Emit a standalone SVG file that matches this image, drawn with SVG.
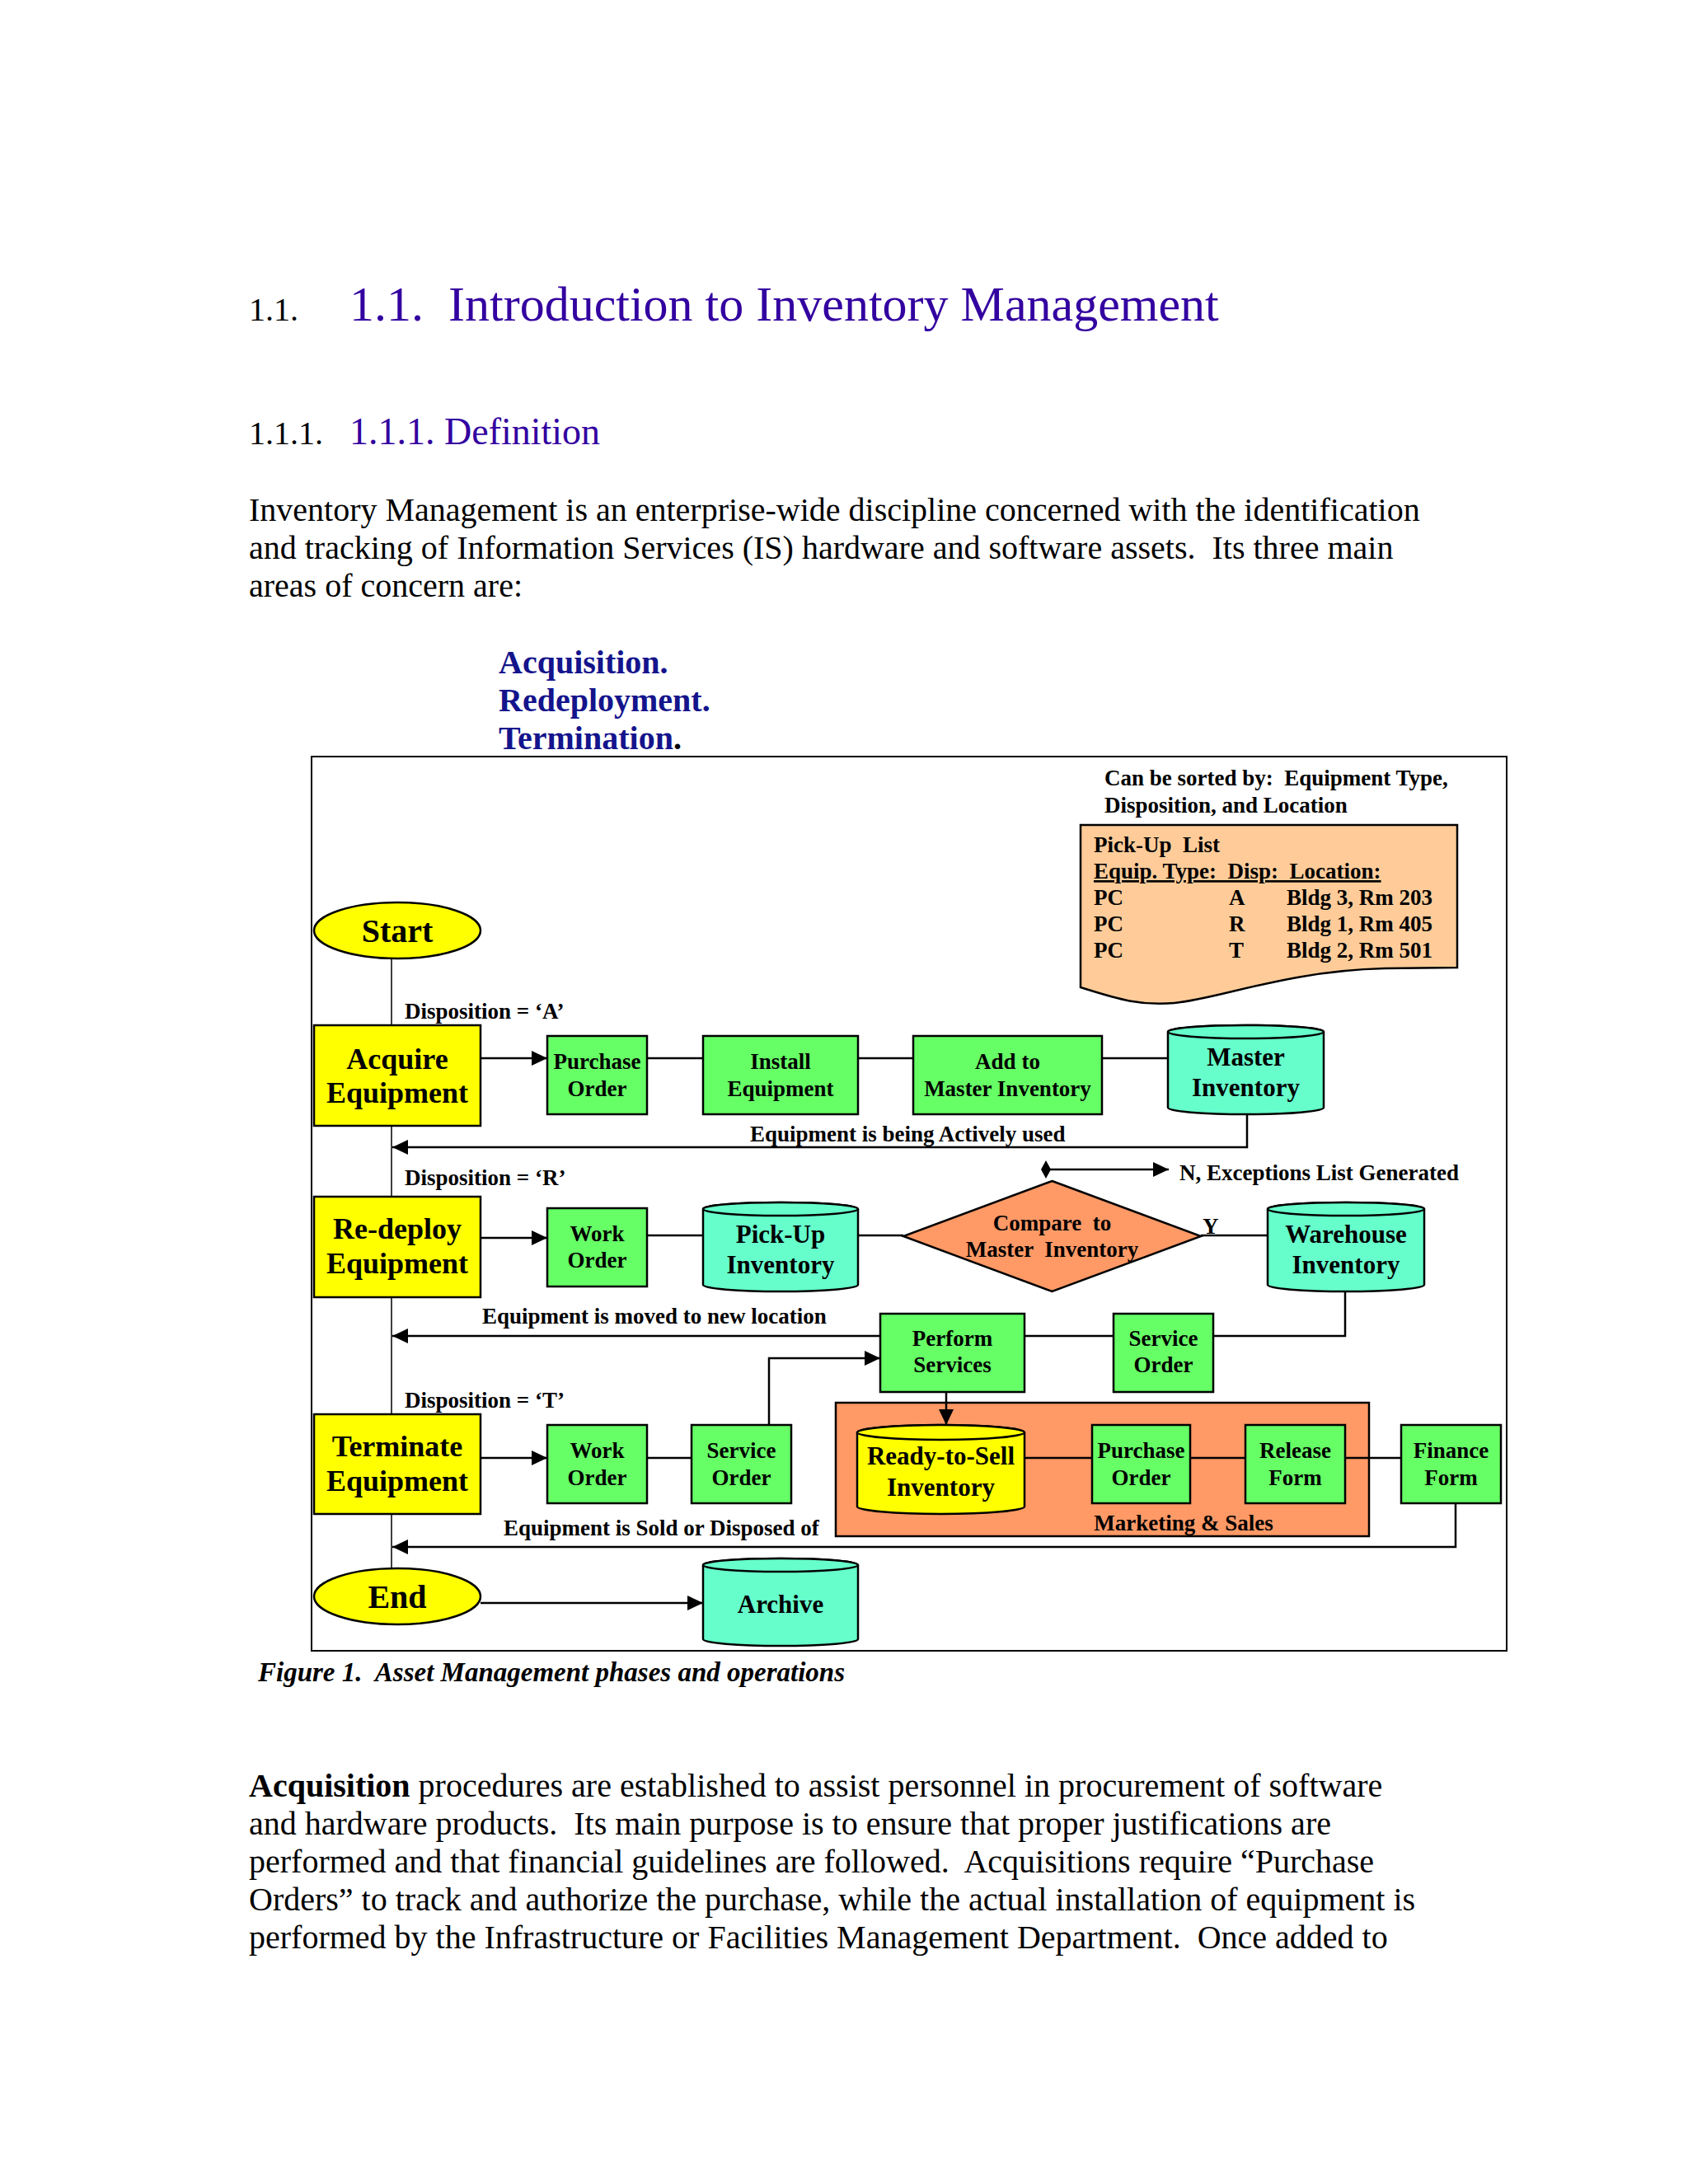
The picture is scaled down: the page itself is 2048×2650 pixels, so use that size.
<svg xmlns="http://www.w3.org/2000/svg" width="2048" height="2650" viewBox="0 0 2048 2650" xml:space="preserve">
<defs>
<style>
text{white-space:pre;}
.serif{font-family:"Liberation Serif","Times New Roman",serif;}
.body{font-family:"Liberation Serif","Times New Roman",serif;font-size:40px;fill:#000;}
.lbl{font-family:"Liberation Serif","Times New Roman",serif;font-weight:bold;font-size:27px;fill:#000;}
.bt{font-family:"Liberation Serif","Times New Roman",serif;font-weight:bold;font-size:27px;fill:#000;text-anchor:middle;}
.ct{font-family:"Liberation Serif","Times New Roman",serif;font-weight:bold;font-size:31px;fill:#000;text-anchor:middle;}
.pt{font-family:"Liberation Serif","Times New Roman",serif;font-weight:bold;font-size:36px;fill:#000;text-anchor:middle;}
.st{font-family:"Liberation Serif","Times New Roman",serif;font-weight:bold;font-size:40px;fill:#000;text-anchor:middle;}
.yel{fill:#FFFF00;stroke:#000;stroke-width:2.5;}
.grn{fill:#66FF66;stroke:#000;stroke-width:2.5;}
.aqua{fill:#66FFCC;stroke:#000;stroke-width:2.5;}
.org{fill:#FF9966;stroke:#000;stroke-width:2.5;}
.peach{fill:#FFCC99;stroke:#000;stroke-width:2.5;}
.conn{fill:none;stroke:#000;stroke-width:2.5;}
.thin{fill:none;stroke:#000;stroke-width:1.5;}
</style>
<marker id="arr" markerUnits="userSpaceOnUse" markerWidth="22" markerHeight="20" refX="19" refY="9" orient="auto">
<path d="M0,0 L19,9 L0,18 z" fill="#000"/>
</marker>
</defs>
<rect x="0" y="0" width="2048" height="2650" fill="#fff"/>

<!-- Headings -->
<text x="302" y="389" class="serif" font-size="40">1.1.</text>
<text x="424" y="389" class="serif" font-size="60" fill="#3300A0">1.1.  Introduction to Inventory Management</text>
<text x="302" y="539" class="serif" font-size="40">1.1.1.</text>
<text x="424" y="539" class="serif" font-size="46" fill="#3300A0">1.1.1. Definition</text>

<text class="body"><tspan x="302" y="632">Inventory Management is an enterprise-wide discipline concerned with the identification</tspan><tspan x="302" y="678">and tracking of Information Services (IS) hardware and software assets.  Its three main</tspan><tspan x="302" y="724">areas of concern are:</tspan></text>

<text class="serif" font-size="40" font-weight="bold" fill="#14148C"><tspan x="605" y="817">Acquisition.</tspan><tspan x="605" y="863">Redeployment.</tspan><tspan x="605" y="909">Termination<tspan fill="#000">.</tspan></tspan></text>

<!-- Frame -->
<rect x="378" y="918" width="1450" height="1085" fill="none" stroke="#000" stroke-width="2"/>

<!-- Connectors -->
<g id="connectors">
<line class="thin" x1="475" y1="1163" x2="475" y2="1903"/>
<line class="conn" x1="583" y1="1284" x2="664" y2="1284" marker-end="url(#arr)"/>
<line class="conn" x1="785" y1="1284" x2="853" y2="1284"/>
<line class="conn" x1="1041" y1="1284" x2="1108" y2="1284"/>
<line class="conn" x1="1337" y1="1284" x2="1417" y2="1284"/>
<polyline class="conn" points="1513,1352 1513,1392 476,1392" marker-end="url(#arr)"/>
<line class="conn" x1="1269" y1="1419" x2="1418" y2="1419" marker-end="url(#arr)"/>
<polygon points="1269,1408 1275,1419 1269,1430 1263,1419" fill="#000"/>
<line class="conn" x1="583" y1="1502" x2="664" y2="1502" marker-end="url(#arr)"/>
<line class="conn" x1="785" y1="1499" x2="853" y2="1499"/>
<line class="conn" x1="1041" y1="1499" x2="1096" y2="1499"/>
<line class="conn" x1="1457" y1="1499" x2="1538" y2="1499"/>
<polyline class="conn" points="1632,1567 1632,1621 1472,1621"/>
<line class="conn" x1="1351" y1="1621" x2="1243" y2="1621"/>
<line class="conn" x1="1068" y1="1621" x2="476" y2="1621" marker-end="url(#arr)"/>
<polyline class="conn" points="933,1729 933,1648 1068,1648" marker-end="url(#arr)"/>
<line class="conn" x1="583" y1="1769" x2="664" y2="1769" marker-end="url(#arr)"/>
<line class="conn" x1="785" y1="1769" x2="839" y2="1769"/>
<polyline class="conn" points="1766,1824 1766,1877 476,1877" marker-end="url(#arr)"/>
<line class="conn" x1="583" y1="1945" x2="853" y2="1945" marker-end="url(#arr)"/>
</g>

<!-- Connector labels -->
<text class="lbl" x="491" y="1236">Disposition = ‘A’</text>
<text class="lbl" x="910" y="1385">Equipment is being Actively used</text>
<text class="lbl" x="1431" y="1432">N, Exceptions List Generated</text>
<text class="lbl" x="491" y="1438">Disposition = ‘R’</text>
<text class="lbl" x="1459" y="1497">Y</text>
<text class="lbl" x="585" y="1606">Equipment is moved to new location</text>
<text class="lbl" x="491" y="1708">Disposition = ‘T’</text>
<text class="lbl" x="611" y="1863">Equipment is Sold or Disposed of</text>

<!-- Sort note -->
<text class="lbl"><tspan x="1340" y="953">Can be sorted by:  Equipment Type,</tspan><tspan x="1340" y="986">Disposition, and Location</tspan></text>

<g id="pickup-list">
<path class="peach" d="M1311,1001 H1768 V1174 L1680,1175 C1560,1178 1480,1212 1425,1217 C1380,1221 1350,1210 1311,1198 Z"/>
<text class="lbl" x="1327" y="1034">Pick-Up  List</text>
<text class="lbl" x="1327" y="1066" text-decoration="underline">Equip. Type:  Disp:  Location:</text>
<text class="lbl" x="1327" y="1098">PC</text><text class="lbl" x="1491" y="1098">A</text><text class="lbl" x="1561" y="1098">Bldg 3, Rm 203</text>
<text class="lbl" x="1327" y="1130">PC</text><text class="lbl" x="1491" y="1130">R</text><text class="lbl" x="1561" y="1130">Bldg 1, Rm 405</text>
<text class="lbl" x="1327" y="1162">PC</text><text class="lbl" x="1491" y="1162">T</text><text class="lbl" x="1561" y="1162">Bldg 2, Rm 501</text>
</g>

<g id="start">
<ellipse class="yel" cx="482" cy="1129" rx="101" ry="34"/>
<text class="st" x="482" y="1143">Start</text>
</g>

<g id="acquire">
<rect class="yel" x="381" y="1244" width="202" height="122"/>
<text class="pt" x="482" y="1297">Acquire</text>
<text class="pt" x="482" y="1338">Equipment</text>
</g>
<g id="po-a">
<rect class="grn" x="664" y="1257" width="121" height="95"/>
<text class="bt" x="724.5" y="1297">Purchase</text>
<text class="bt" x="724.5" y="1330">Order</text>
</g>
<g id="install">
<rect class="grn" x="853" y="1257" width="188" height="95"/>
<text class="bt" x="947" y="1297">Install</text>
<text class="bt" x="947" y="1330">Equipment</text>
</g>
<g id="addto">
<rect class="grn" x="1108" y="1257" width="229" height="95"/>
<text class="bt" x="1222.5" y="1297">Add to</text>
<text class="bt" x="1222.5" y="1330">Master Inventory</text>
</g>
<g id="master">
<path class="aqua" d="M1417,1252 V1344 A94.5,8 0 0 0 1606,1344 V1252 A94.5,8 0 0 0 1417,1252 Z"/>
<ellipse class="aqua" cx="1511.5" cy="1252" rx="94.5" ry="8"/>
<text class="ct" x="1511.5" y="1293">Master</text>
<text class="ct" x="1511.5" y="1330">Inventory</text>
</g>

<g id="redeploy">
<rect class="yel" x="381" y="1452" width="202" height="122"/>
<text class="pt" x="482" y="1503">Re-deploy</text>
<text class="pt" x="482" y="1545">Equipment</text>
</g>
<g id="wo-r">
<rect class="grn" x="664" y="1466" width="121" height="95"/>
<text class="bt" x="724.5" y="1506">Work</text>
<text class="bt" x="724.5" y="1538">Order</text>
</g>
<g id="pickup">
<path class="aqua" d="M853,1467 V1559 A94,8 0 0 0 1041,1559 V1467 A94,8 0 0 0 853,1467 Z"/>
<ellipse class="aqua" cx="947" cy="1467" rx="94" ry="8"/>
<text class="ct" x="947" y="1508">Pick-Up</text>
<text class="ct" x="947" y="1545">Inventory</text>
</g>
<g id="compare">
<polygon class="org" points="1276.5,1433 1457,1500 1276.5,1567 1096,1500"/>
<text class="bt" x="1276.5" y="1493">Compare  to</text>
<text class="bt" x="1276.5" y="1525">Master  Inventory</text>
</g>
<g id="warehouse">
<path class="aqua" d="M1538,1467 V1559 A95,8 0 0 0 1728,1559 V1467 A95,8 0 0 0 1538,1467 Z"/>
<ellipse class="aqua" cx="1633" cy="1467" rx="95" ry="8"/>
<text class="ct" x="1633" y="1508">Warehouse</text>
<text class="ct" x="1633" y="1545">Inventory</text>
</g>
<g id="perform">
<rect class="grn" x="1068" y="1594" width="175" height="95"/>
<text class="bt" x="1155.5" y="1633">Perform</text>
<text class="bt" x="1155.5" y="1665">Services</text>
</g>
<g id="so-r">
<rect class="grn" x="1351" y="1594" width="121" height="95"/>
<text class="bt" x="1411.5" y="1633">Service</text>
<text class="bt" x="1411.5" y="1665">Order</text>
</g>

<g id="marketing">
<rect class="org" x="1014" y="1702" width="647" height="162"/>
<text class="bt" x="1436" y="1857">Marketing &amp; Sales</text>
</g>
<g id="connectors-inner">
<line class="conn" x1="1148" y1="1689" x2="1148" y2="1729" marker-end="url(#arr)"/>
<line class="conn" x1="1243" y1="1769" x2="1325" y2="1769"/>
<line class="conn" x1="1444" y1="1769" x2="1511" y2="1769"/>
<line class="conn" x1="1632" y1="1769" x2="1700" y2="1769"/>
</g>

<g id="terminate">
<rect class="yel" x="381" y="1716" width="202" height="121"/>
<text class="pt" x="482" y="1767">Terminate</text>
<text class="pt" x="482" y="1809">Equipment</text>
</g>
<g id="wo-t">
<rect class="grn" x="664" y="1729" width="121" height="95"/>
<text class="bt" x="724.5" y="1769">Work</text>
<text class="bt" x="724.5" y="1802">Order</text>
</g>
<g id="so-t">
<rect class="grn" x="839" y="1729" width="121" height="95"/>
<text class="bt" x="899.5" y="1769">Service</text>
<text class="bt" x="899.5" y="1802">Order</text>
</g>
<g id="ready">
<path class="yel" d="M1040,1738 V1828 A101.5,9 0 0 0 1243,1828 V1738 A101.5,9 0 0 0 1040,1738 Z"/>
<ellipse class="yel" cx="1141.5" cy="1738" rx="101.5" ry="9"/>
<text class="ct" x="1141.5" y="1777">Ready-to-Sell</text>
<text class="ct" x="1141.5" y="1815">Inventory</text>
</g>
<g id="po-m">
<rect class="grn" x="1325" y="1729" width="119" height="95"/>
<text class="bt" x="1384.5" y="1769">Purchase</text>
<text class="bt" x="1384.5" y="1802">Order</text>
</g>
<g id="release">
<rect class="grn" x="1511" y="1729" width="121" height="95"/>
<text class="bt" x="1571.5" y="1769">Release</text>
<text class="bt" x="1571.5" y="1802">Form</text>
</g>
<g id="finance">
<rect class="grn" x="1700" y="1729" width="121" height="95"/>
<text class="bt" x="1760.5" y="1769">Finance</text>
<text class="bt" x="1760.5" y="1802">Form</text>
</g>

<g id="end">
<ellipse class="yel" cx="482" cy="1937" rx="101" ry="34"/>
<text class="st" x="482" y="1951">End</text>
</g>
<g id="archive">
<path class="aqua" d="M853,1899 V1989 A94,8 0 0 0 1041,1989 V1899 A94,8 0 0 0 853,1899 Z"/>
<ellipse class="aqua" cx="947" cy="1899" rx="94" ry="8"/>
<text class="ct" x="947" y="1957">Archive</text>
</g>

<text class="serif" x="313" y="2040" font-size="33" font-weight="bold" font-style="italic">Figure 1.  Asset Management phases and operations</text>

<text class="body"><tspan x="302" y="2180"><tspan font-weight="bold">Acquisition</tspan> procedures are established to assist personnel in procurement of software</tspan><tspan x="302" y="2226">and hardware products.  Its main purpose is to ensure that proper justifications are</tspan><tspan x="302" y="2272">performed and that financial guidelines are followed.  Acquisitions require “Purchase</tspan><tspan x="302" y="2318">Orders” to track and authorize the purchase, while the actual installation of equipment is</tspan><tspan x="302" y="2364">performed by the Infrastructure or Facilities Management Department.  Once added to</tspan></text>
</svg>
